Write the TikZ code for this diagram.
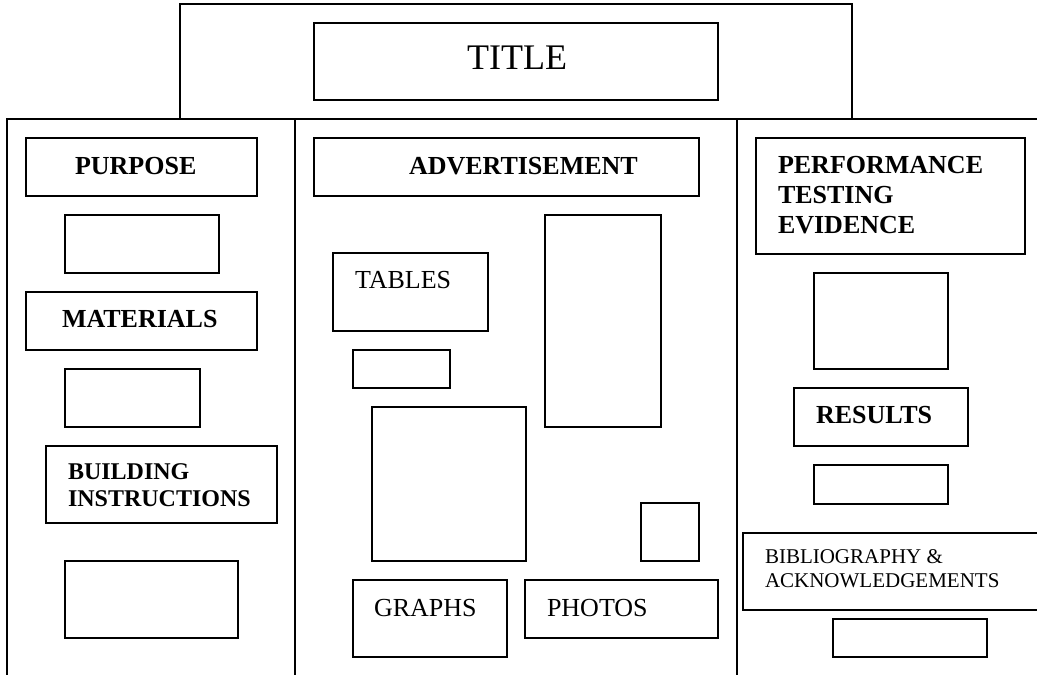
\documentclass[tikz,border=0pt]{standalone}
\usepackage{fontspec}
\setmainfont{Liberation Serif}
\begin{document}
\begin{tikzpicture}[x=1pt,y=-1pt,
  line width=2pt,
  box/.style={draw=black, line width=2pt, inner sep=0pt, minimum width=#1},
  boxh/.style={minimum height=#1},
  hd/.style={inner sep=0pt, font=\fontsize{26}{30}\selectfont\bfseries, align=left},
  hdsm/.style={inner sep=0pt, font=\fontsize{24}{27}\selectfont\bfseries, align=left},
  lbl/.style={inner sep=0pt, font=\fontsize{26}{30}\selectfont},
  lblsm/.style={inner sep=0pt, font=\fontsize{21}{24}\selectfont, align=left},
  ttl/.style={inner sep=0pt, font=\fontsize{36}{40}\selectfont}]
\clip (0,0) rectangle (1037,675);
\fill[white] (0,0) rectangle (1037,675);
% board
\coordinate (bl) at (7,680);
\coordinate (tl) at (7,119);
\coordinate (tr) at (1040,119);
\coordinate (d1t) at (295,119);
\coordinate (d1b) at (295,680);
\coordinate (d2t) at (737,119);
\coordinate (d2b) at (737,680);
\draw (bl) -- (tl) -- (tr);
\draw (d1t) -- (d1b);
\draw (d2t) -- (d2b);
% title header
\node[box=672, boxh=115] (header) at (516,61.5) {};
\node[box=404, boxh=77] (titlebox) at (516,61.5) {};
\node[ttl, anchor=base] (titletext) at (517,69) {TITLE};
% left panel
\node[box=231, boxh=58] (purpose) at (141.5,167) {};
\node[hd, anchor=base west] (purposet) at (74,174) {PURPOSE};
\node[box=154, boxh=58] (e1) at (142,244) {};
\node[box=231, boxh=58] (materials) at (141.5,321) {};
\node[hd, anchor=base west] (materialst) at (61,327) {MATERIALS};
\node[box=135, boxh=58] (e2) at (132.5,398) {};
\node[box=231, boxh=77] (building) at (161.5,484.5) {};
\node[hdsm, anchor=base west] (buildingt) at (67,506) {BUILDING\\INSTRUCTIONS};
\node[box=173, boxh=77] (e3) at (151.5,599.5) {};
% middle panel
\node[box=385, boxh=58] (advert) at (506.5,167) {};
\node[hd, anchor=base west] (advertt) at (408,174) {ADVERTISEMENT};
\node[box=155, boxh=78] (tables) at (410.5,292) {};
\node[lbl, anchor=base west] (tablest) at (354,288) {TABLES};
\node[box=97, boxh=38] (s1) at (401.5,369) {};
\node[box=154, boxh=154] (bigsq) at (449,484) {};
\node[box=116, boxh=212] (tall) at (603,321) {};
\node[box=58, boxh=58] (smsq) at (670,532) {};
\node[box=154, boxh=77] (graphs) at (430,618.5) {};
\node[lbl, anchor=base west] (graphst) at (373,616) {GRAPHS};
\node[box=193, boxh=58] (photos) at (621.5,609) {};
\node[lbl, anchor=base west] (photost) at (546,616) {PHOTOS};
% right panel
\node[box=269, boxh=116] (perf) at (890.5,196) {};
\node[hd, anchor=base west] (perft) at (777,233) {PERFORMANCE\\TESTING\\EVIDENCE};
\node[box=134, boxh=96] (e4) at (881,321) {};
\node[box=174, boxh=58] (results) at (881,417) {};
\node[hd, anchor=base west] (resultst) at (815,423) {RESULTS};
\node[box=134, boxh=39] (e5) at (881,484.5) {};
\node[box=310, boxh=77] (biblio) at (898,571.5) {};
\node[lblsm, anchor=base west] (bibliot) at (764,587) {BIBLIOGRAPHY \&\\ACKNOWLEDGEMENTS};
\node[box=154, boxh=38] (e6) at (910,638) {};
\end{tikzpicture}
\end{document}
